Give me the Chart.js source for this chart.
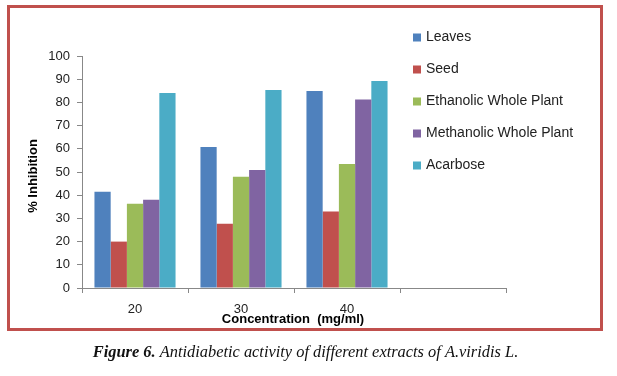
<!DOCTYPE html>
<html>
<head>
<meta charset="utf-8">
<script src="https://cdn.jsdelivr.net/npm/chart.js@4.4.0/dist/chart.umd.min.js"></script>
<style>
html,body{margin:0;padding:0;background:#fff;}
canvas{display:block;}
</style>
</head>
<body>
<canvas id="c" width="617" height="376"></canvas>
<script>
const categories = ['20', '30', '40', ''];
const leaves = [41.5, 60.8, 84.9, null];
const seed = [20.0, 27.7, 33.0, null];
const ethanolic = [36.3, 47.9, 53.5, null];
const methanolic = [38.0, 50.9, 81.2, null];
const acarbose = [84.0, 85.3, 89.2, null];
const seriesNames = ['Leaves', 'Seed', 'Ethanolic Whole Plant', 'Methanolic Whole Plant', 'Acarbose'];
const seriesColors = ['#4F81BD', '#C0504D', '#9BBB59', '#8064A2', '#4BACC6'];
const yTitle = '% Inhibition';
const xTitle = 'Concentration  (mg/ml)';
const captionBold = 'Figure 6.';
const captionRest = ' Antidiabetic activity of different extracts of A.viridis L.';

const seriesData = [leaves, seed, ethanolic, methanolic, acarbose];

const decor = {
  id: 'decor',
  afterDraw(chart) {
    const ctx = chart.ctx;
    ctx.save();
    // border
    ctx.strokeStyle = '#C0504D';
    ctx.lineWidth = 3;
    ctx.strokeRect(8.5, 6.5, 593, 323);
    // legend
    ctx.font = '14px "Liberation Sans", Arial, sans-serif';
    ctx.textBaseline = 'middle';
    ctx.textAlign = 'left';
    chart.data.datasets.forEach((ds, i) => {
      const y = 37.5 + i * 32;
      ctx.fillStyle = ds.backgroundColor;
      ctx.fillRect(413, y - 4, 8, 8);
      ctx.fillStyle = '#222';
      ctx.fillText(ds.label, 426, y);
    });
    // axis titles
    ctx.font = 'bold 13px "Liberation Sans", Arial, sans-serif';
    ctx.fillStyle = '#000';
    ctx.textAlign = 'center';
    ctx.fillText(xTitle, 293, 319);
    ctx.save();
    ctx.translate(33, 176);
    ctx.rotate(-Math.PI / 2);
    ctx.fillText(yTitle, 0, 0);
    ctx.restore();
    // caption
    ctx.fillStyle = '#111';
    ctx.textAlign = 'left';
    const fb = 'italic bold 16.4px "Liberation Serif", "Times New Roman", serif';
    const fr = 'italic 16.4px "Liberation Serif", "Times New Roman", serif';
    ctx.font = fb;
    const w1 = ctx.measureText(captionBold).width;
    ctx.font = fr;
    const w2 = ctx.measureText(captionRest).width;
    let x0 = 305.5 - (w1 + w2) / 2;
    ctx.font = fb;
    ctx.fillText(captionBold, x0, 353);
    ctx.font = fr;
    ctx.fillText(captionRest, x0 + w1, 353);
    ctx.restore();
  }
};

new Chart(document.getElementById('c'), {
  type: 'bar',
  data: {
    labels: categories,
    datasets: seriesNames.map((n, i) => ({
      label: n,
      data: seriesData[i],
      backgroundColor: seriesColors[i],
      borderWidth: 0,
      categoryPercentage: 0.765,
      barPercentage: 1.0
    }))
  },
  options: {
    responsive: false,
    animation: false,
    devicePixelRatio: 1,
    layout: { padding: { left: 0, right: 111, top: 56, bottom: 0 } },
    plugins: { legend: { display: false }, title: { display: false }, tooltip: { enabled: false } },
    scales: {
      x: {
        offset: true,
        grid: { offset: true, drawOnChartArea: false, drawTicks: true, tickLength: 5, color: '#888' },
        border: { color: '#888', width: 1 },
        ticks: { color: '#222', font: { family: '"Liberation Sans", Arial, sans-serif', size: 13 }, padding: 9, maxRotation: 0 },
        afterFit(s) { s.height = 88; }
      },
      y: {
        min: 0, max: 100,
        grid: { drawOnChartArea: false, drawTicks: true, tickLength: 5, color: '#888' },
        border: { color: '#888', width: 1 },
        ticks: { stepSize: 10, color: '#222', font: { family: '"Liberation Sans", Arial, sans-serif', size: 13 }, padding: 7 },
        afterFit(s) { s.width = 82; }
      }
    }
  },
  plugins: [decor]
});
</script>
</body>
</html>
